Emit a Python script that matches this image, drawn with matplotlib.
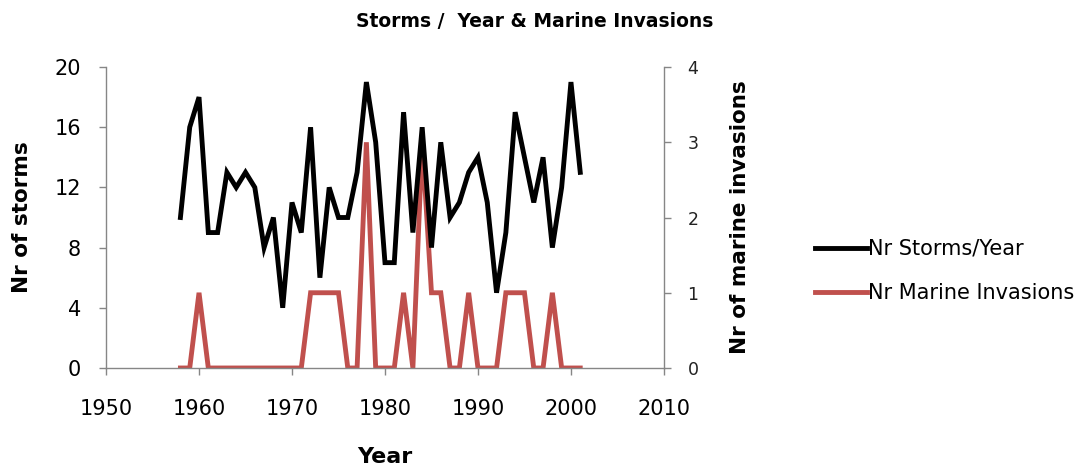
import matplotlib
matplotlib.use("Agg")
import matplotlib.pyplot as plt

years = list(range(1958, 2002))
storms = [10, 16, 18, 9, 9, 13, 12, 13, 12, 8, 10, 4, 11, 9, 16, 6, 12, 10, 10, 13,
          19, 15, 7, 7, 17, 9, 16, 8, 15, 10, 11, 13, 14, 11, 5, 9, 17, 14, 11, 14,
          8, 12, 19, 13]
invasions = [0, 0, 1, 0, 0, 0, 0, 0, 0, 0, 0, 0, 0, 0, 1, 1, 1, 1, 0, 0,
             3, 0, 0, 0, 1, 0, 3, 1, 1, 0, 0, 1, 0, 0, 0, 1, 1, 1, 0, 0,
             1, 0, 0, 0]

left_ticks = [0, 4, 8, 12, 16, 20]
right_ticks = [0, 1, 2, 3, 4]
x_ticks = [1950, 1960, 1970, 1980, 1990, 2000, 2010]

plt.rcParams['font.family'] = ['DejaVu Sans']
spine_col = '#868686'
red = '#C0504D'

fig = plt.figure(figsize=(10.92, 4.67), dpi=100)
ax = fig.add_axes([0.0971, 0.212, 0.5109, 0.6445])
ax2 = ax.twinx()

l1, = ax.plot(years, storms, color='black', lw=3.5, solid_joinstyle='miter',
              label='Nr Storms/Year', zorder=3)
l2, = ax2.plot(years, invasions, color=red, lw=3.5, solid_joinstyle='miter',
               label='Nr Marine Invasions', zorder=2)
ax.set_zorder(ax2.get_zorder() + 1)
ax.patch.set_visible(False)

ax.set_xlim(1950, 2010)
ax.set_ylim(0, 20)
ax2.set_ylim(0, 4)
ax.set_xticks(x_ticks)
ax.set_yticks(left_ticks)
ax2.set_yticks(right_ticks)

for a in (ax, ax2):
    a.spines['top'].set_visible(False)
    for s in ('left', 'right', 'bottom'):
        a.spines[s].set_color(spine_col)
        a.spines[s].set_linewidth(1.0)
ax.spines['right'].set_visible(False)
ax2.spines['left'].set_visible(False)
ax2.spines['bottom'].set_visible(False)

ax.tick_params(axis='y', direction='out', length=5, width=1, color=spine_col,
               labelsize=15, labelcolor='black', pad=13)
ax.tick_params(axis='x', direction='out', length=5, width=1, color=spine_col,
               labelsize=15, labelcolor='black', pad=17)
ax2.tick_params(axis='y', direction='out', length=5, width=1, color=spine_col,
                labelsize=12.5, labelcolor='#222222', pad=12)

ax.set_ylabel('Nr of storms', fontsize=15.5, fontweight='bold')
ax.yaxis.set_label_coords(-0.132, 0.5)
ax2.set_ylabel('Nr of marine invasions', fontsize=15.5, fontweight='bold')
ax2.yaxis.set_label_coords(1.118, 0.5)
fig.text(0.352, 0.043, 'Year', fontsize=16, fontweight='bold', ha='center', va='top')
fig.text(0.49, 0.955, 'Storms /  Year & Marine Invasions', fontsize=13.5,
         fontweight='bold', ha='center', va='center')

fig.legend(handles=[l1, l2], loc='center left', bbox_to_anchor=(0.739, 0.42),
           frameon=False, fontsize=15, handlelength=2.5, handletextpad=0.05,
           labelspacing=1.15, borderaxespad=0)

fig.savefig('out.png', dpi=100, facecolor='white')
